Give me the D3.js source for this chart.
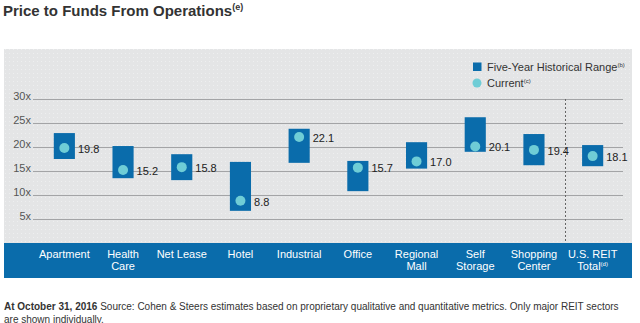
<!DOCTYPE html>
<html><head><meta charset="utf-8">
<script src="https://cdn.jsdelivr.net/npm/d3@7/dist/d3.min.js"></script>
<style>
html,body{margin:0;padding:0;background:#fff;}
svg{display:block;font-family:"Liberation Sans",Arial,sans-serif;}
</style></head>
<body>
<svg id="chart" width="640" height="323"></svg>
<script>
const categories = ["Apartment","Health Care","Net Lease","Hotel","Industrial","Office","Regional Mall","Self Storage","Shopping Center","U.S. REIT Total"];
const categoryLines = [["Apartment"],["Health","Care"],["Net Lease"],["Hotel"],["Industrial"],["Office"],["Regional","Mall"],["Self","Storage"],["Shopping","Center"],["U.S. REIT","Total"]];
const rangeHigh = [22.9, 20.2, 18.5, 16.9, 23.8, 17.1, 21.0, 26.2, 22.7, 20.4];
const rangeLow  = [17.5, 13.5, 13.1, 6.7, 16.7, 10.8, 15.5, 19.0, 16.2, 16.0];
const current   = [19.8, 15.2, 15.8, 8.8, 22.1, 15.7, 17.0, 20.1, 19.4, 18.1];
const yTicks = [5, 10, 15, 20, 25, 30];
const yTickLabels = ["5x","10x","15x","20x","25x","30x"];

const svg = d3.select("#chart");
const blue = "#0a6cab", teal = "#6fcdd6";

// title
const title = svg.append("text").attr("x", 3).attr("y", 16)
  .attr("font-size", 15).attr("font-weight", "bold").attr("fill", "#333");
title.append("tspan").text("Price to Funds From Operations");
title.append("tspan").attr("font-size", 9).attr("dy", -6).text("(e)");

// panel background with dot texture
const defs = svg.append("defs");
const pat = defs.append("pattern").attr("id", "dots").attr("width", 4).attr("height", 4)
  .attr("patternUnits", "userSpaceOnUse");
pat.append("rect").attr("width", 4).attr("height", 4).attr("fill", "#e4e5e6");
pat.append("rect").attr("x", 1).attr("y", 1).attr("width", 1).attr("height", 1).attr("fill", "#eeeff0");
svg.append("rect").attr("x", 4).attr("y", 49).attr("width", 628).attr("height", 194).attr("fill", "url(#dots)");

const y = d3.scaleLinear().domain([0, 30]).range([243, 99]);
const x = d3.scaleBand().domain(categories).range([35, 622]).paddingInner(0.64).paddingOuter(0.32);

// gridlines + tick labels via axis
const yAxis = d3.axisLeft(y).tickValues(yTicks).tickSize(-(623 - 33))
  .tickFormat((d, i) => yTickLabels[i]).tickPadding(2);
const gy = svg.append("g").attr("transform", "translate(33,0)").call(yAxis);
gy.select(".domain").remove();
gy.selectAll(".tick line").attr("stroke", "#a3a4a6").attr("stroke-width", 1);
gy.selectAll(".tick text").attr("font-size", 11).attr("fill", "#555")
  .attr("font-family", "Liberation Sans, Arial, sans-serif").attr("dy", "0.05em");

// dashed separator
svg.append("line").attr("x1", 565.5).attr("x2", 565.5).attr("y1", y(30)).attr("y2", 243)
  .attr("stroke", "#666").attr("stroke-dasharray", "2,2").attr("stroke-width", 1);

// range bars
svg.append("g").selectAll("rect").data(categories).join("rect")
  .attr("x", d => x(d)).attr("width", x.bandwidth())
  .attr("y", (d, i) => y(rangeHigh[i]))
  .attr("height", (d, i) => y(rangeLow[i]) - y(rangeHigh[i]))
  .attr("fill", blue);

// current dots
svg.append("g").selectAll("circle").data(categories).join("circle")
  .attr("cx", d => x(d) + x.bandwidth() / 2)
  .attr("cy", (d, i) => y(current[i])).attr("r", 5).attr("fill", teal);

// value labels
svg.append("g").selectAll("text").data(categories).join("text")
  .attr("x", d => x(d) + x.bandwidth() + 3)
  .attr("y", (d, i) => y(current[i]) + 1).attr("dy", "0.35em")
  .attr("font-size", 11).attr("fill", "#222")
  .text((d, i) => current[i].toFixed(1));

// bottom band
svg.append("rect").attr("x", 4).attr("y", 243).attr("width", 628).attr("height", 35).attr("fill", blue);
const cl = svg.append("g").selectAll("text").data(categories).join("text")
  .attr("text-anchor", "middle").attr("font-size", 11).attr("fill", "#fff");
cl.each(function(d, i) {
  const t = d3.select(this);
  const cx = x(d) + x.bandwidth() / 2;
  categoryLines[i].forEach((ln, j) => {
    const ts = t.append("tspan").attr("x", cx).attr("y", 257.5 + j * 12.5).text(ln);
  });
  if (i === categories.length - 1) {
    t.append("tspan").attr("font-size", 6).attr("dy", -4).text("(d)");
  }
});

// legend
const lg = svg.append("g");
lg.append("rect").attr("x", 473).attr("y", 62.5).attr("width", 8.5).attr("height", 8.5).attr("fill", blue);
lg.append("circle").attr("cx", 477).attr("cy", 83).attr("r", 4.5).attr("fill", teal);
const l1 = lg.append("text").attr("x", 487).attr("y", 70.5).attr("font-size", 11).attr("fill", "#333");
l1.append("tspan").text("Five-Year Historical Range");
l1.append("tspan").attr("font-size", 6).attr("dy", -4).text("(b)");
const l2 = lg.append("text").attr("x", 487).attr("y", 87).attr("font-size", 11).attr("fill", "#333");
l2.append("tspan").text("Current");
l2.append("tspan").attr("font-size", 6).attr("dy", -4).text("(c)");

// footer
const f1 = svg.append("text").attr("x", 4).attr("y", 310).attr("font-size", 10).attr("fill", "#333");
f1.append("tspan").attr("font-weight", "bold").text("At October 31, 2016");
f1.append("tspan").text(" Source: Cohen & Steers estimates based on proprietary qualitative and quantitative metrics. Only major REIT sectors");
svg.append("text").attr("x", 4).attr("y", 323).attr("font-size", 10).attr("fill", "#333")
  .text("are shown individually.");
</script>
</body></html>
